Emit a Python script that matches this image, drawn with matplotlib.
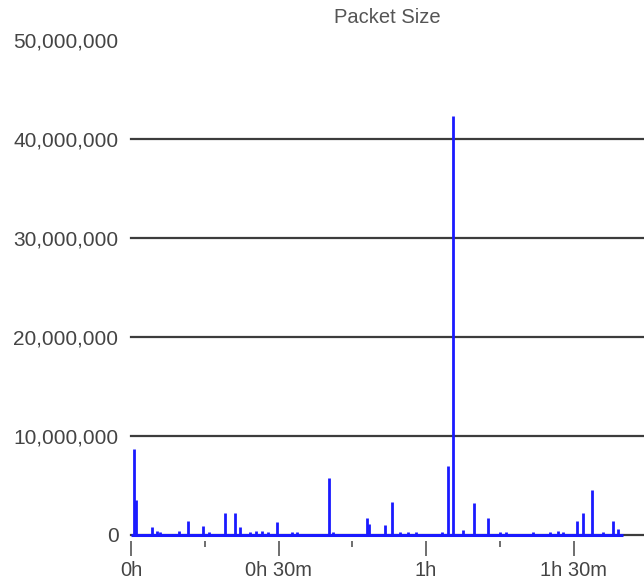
import matplotlib
matplotlib.use("Agg")
import matplotlib.pyplot as plt
from matplotlib.ticker import FuncFormatter, FixedLocator

# Capture time offsets (minutes) and packet size totals (bytes)
times_min = [0.6, 1.0, 4.3, 5.3, 5.9, 9.8, 11.6, 14.6, 15.9, 19.1, 21.2, 22.2,
             24.2, 25.4, 26.6, 27.9, 29.7, 32.7, 33.8, 40.3, 41.1, 48.0, 48.4,
             51.7, 53.1, 54.7, 56.3, 58.0, 63.3, 64.5, 65.5, 67.5, 69.8, 72.6,
             75.1, 76.3, 81.8, 85.2, 86.8, 87.9, 90.7, 91.9, 93.7, 96.0, 98.0,
             99.0]
packet_size = [8_700_000, 3_500_000, 800_000, 400_000, 300_000, 400_000,
               1_400_000, 900_000, 300_000, 2_200_000, 2_200_000, 800_000,
               300_000, 400_000, 400_000, 300_000, 1_300_000, 300_000, 300_000,
               5_800_000, 300_000, 1_700_000, 1_100_000, 1_000_000, 3_300_000,
               300_000, 300_000, 300_000, 300_000, 7_000_000, 42_300_000,
               500_000, 3_200_000, 1_700_000, 300_000, 300_000, 300_000,
               300_000, 400_000, 300_000, 1_400_000, 2_200_000, 4_500_000,
               300_000, 1_400_000, 600_000]
series_start, series_end = 0.0, 100.0
y_ticks = [0, 10_000_000, 20_000_000, 30_000_000, 40_000_000, 50_000_000]
grid_levels = [0, 10_000_000, 20_000_000, 30_000_000, 40_000_000]
x_major = [0, 30, 60, 90]
x_minor = [15, 45, 75]

plt.rcParams["font.family"] = ["Liberation Sans", "DejaVu Sans"]

fig = plt.figure(figsize=(6.44, 5.80), dpi=100)
ax = fig.add_axes([131 / 644, 45 / 580, 1 - 131 / 644, (535 - 40) / 580])

ax.set_xlim(0, 104.3)
ax.set_ylim(0, 50_000_000)

for lvl in grid_levels:
    ax.axhline(lvl, color="#3c3c3c", lw=1.6, zorder=1, clip_on=False)

blue = "#1a1aff"
ax.plot([series_start, series_end], [0, 0], color=blue, lw=2.2,
        solid_capstyle="butt", zorder=3, clip_on=False)
ax.vlines(times_min, 0, packet_size, color=blue, lw=2.0, zorder=4)

for s in ax.spines.values():
    s.set_visible(False)
ax.spines["bottom"].set_position(("outward", 4))

ax.xaxis.set_major_locator(FixedLocator(x_major))
ax.xaxis.set_minor_locator(FixedLocator(x_minor))


def fmt_time(v, _pos):
    m = int(round(v))
    h, mm = divmod(m, 60)
    return f"{h}h" if mm == 0 else f"{h}h {mm}m"


ax.xaxis.set_major_formatter(FuncFormatter(fmt_time))
ax.tick_params(axis="x", which="major", length=10.5, width=1.2,
               color="#555555", labelsize=14.5, labelcolor="#444444", pad=4.5)
ax.tick_params(axis="x", which="minor", length=4.5, width=1.2,
               color="#555555")

ax.set_yticks(y_ticks)
ax.yaxis.set_major_formatter(FuncFormatter(lambda v, p: f"{int(v):,}"))
ax.tick_params(axis="y", length=0, labelsize=15, labelcolor="#444444",
               pad=9)

ax.set_title("Packet Size", fontsize=14.5, color="#555555", pad=12)

fig.savefig("out.png", dpi=100)
